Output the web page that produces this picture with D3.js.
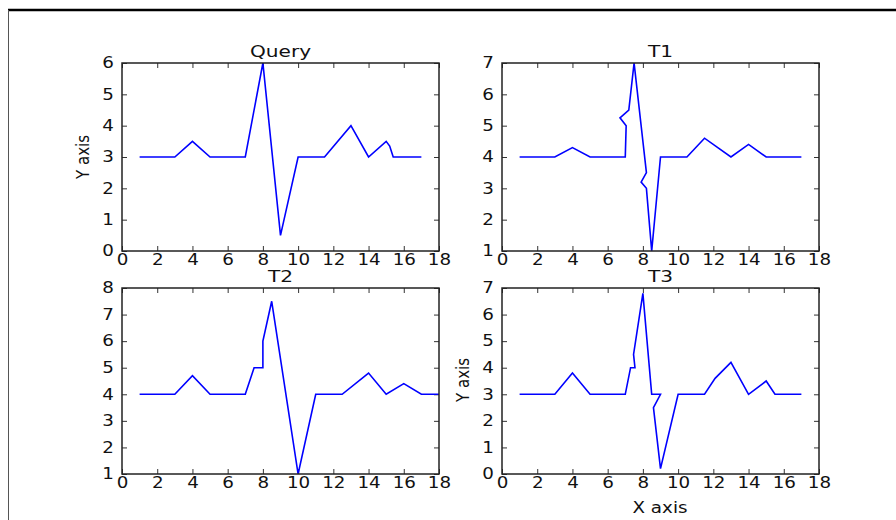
<!DOCTYPE html>
<html>
<head>
<meta charset="utf-8">
<script src="https://cdn.jsdelivr.net/npm/d3@7"></script>
<style>
  body { margin: 0; background: #fff; }
  svg text { font-family: "DejaVu Sans", sans-serif; fill: #111; }
</style>
</head>
<body>
<svg id="chart"></svg>
<script>
// series values
const queryX = [1, 3, 4, 5, 7, 8, 9, 10, 11.5, 13, 14, 15, 15.2, 15.4, 17];
const queryY = [3, 3, 3.5, 3, 3, 6, 0.5, 3, 3, 4, 3, 3.5, 3.35, 3, 3];

const t1X = [1, 3, 4, 5, 7, 7.05, 6.7, 7.2, 7.5, 8.2, 7.9, 8.2, 8.5, 9, 10.5, 11.5, 13, 14, 15, 17];
const t1Y = [4, 4, 4.3, 4, 4, 5, 5.25, 5.5, 7, 3.5, 3.2, 3, 1, 4, 4, 4.6, 4, 4.4, 4, 4];

const t2X = [1, 3, 4, 5, 7, 7.5, 8, 8, 8.5, 10, 11, 12.5, 14, 15, 16, 17, 18];
const t2Y = [4, 4, 4.7, 4, 4, 5, 5, 6, 7.5, 1, 4, 4, 4.8, 4, 4.4, 4, 4];

const t3X = [1, 3, 4, 5, 7, 7.3, 7.55, 7.47, 8, 8.5, 9, 8.6, 9, 10, 11.5, 12.1, 13, 14, 15, 15.5, 17];
const t3Y = [3, 3, 3.8, 3, 3, 4, 4, 4.5, 6.8, 3, 3, 2.5, 0.2, 3, 3, 3.6, 4.2, 3, 3.5, 3, 3];

const titles = ["Query", "T1", "T2", "T3"];
const xTicks = [0, 2, 4, 6, 8, 10, 12, 14, 16, 18];
const yDomains = [[0, 6], [1, 7], [1, 8], [0, 7]];

const width = 896, height = 520;
const stretch = 1.22; // the source picture is widened sideways, text included
const svg = d3.select('#chart').attr('width', width).attr('height', height);

// outer frame of the scanned figure
svg.append('line').attr('x1', 8).attr('x2', width).attr('y1', 10).attr('y2', 10)
   .attr('stroke', '#000').attr('stroke-width', 2.5);
svg.append('line').attr('x1', 8.5).attr('x2', 8.5).attr('y1', 10).attr('y2', height)
   .attr('stroke', '#555').attr('stroke-width', 1);

// panel boxes: left, right, top, bottom
const boxes = [
  [122, 439, 63, 251],
  [502, 819, 63, 251],
  [122, 439, 288, 474],
  [502, 819, 288, 474]
];
const series = [[queryX, queryY], [t1X, t1Y], [t2X, t2Y], [t3X, t3Y]];

boxes.forEach((b, i) => {
  const [x0, x1, y0, y1] = b;
  const xScale = d3.scaleLinear().domain([0, 18]).range([x0, x1]);
  const yScale = d3.scaleLinear().domain(yDomains[i]).range([y1, y0]);
  const yTicks = d3.range(yDomains[i][0], yDomains[i][1] + 1);

  const g = svg.append('g');

  // ticks pointing inward on all four sides
  const bottom = g.append('g').attr('transform', `translate(0,${y1})`)
    .call(d3.axisBottom(xScale).tickValues(xTicks).tickSize(-5).tickPadding(3).tickFormat(d3.format('d')));
  const top = g.append('g').attr('transform', `translate(0,${y0})`)
    .call(d3.axisTop(xScale).tickValues(xTicks).tickSize(-5).tickFormat(''));
  const left = g.append('g').attr('transform', `translate(${x0},0)`)
    .call(d3.axisLeft(yScale).tickValues(yTicks).tickSize(-5).tickPadding(8).tickFormat(d3.format('d')));
  const right = g.append('g').attr('transform', `translate(${x1},0)`)
    .call(d3.axisRight(yScale).tickValues(yTicks).tickSize(-5).tickFormat(''));

  [bottom, top, left, right].forEach(a => {
    a.select('.domain').remove();
    a.selectAll('line').attr('stroke', '#333').attr('stroke-width', 1);
    a.selectAll('text').attr('font-size', 15).attr('fill', '#111')
      .style('font-family', '"DejaVu Sans", sans-serif')
      .attr('transform', `scale(${stretch},1)`);
  });
  left.selectAll('text').attr('x', -8 / stretch);

  const line = d3.line().x(d => xScale(d[0])).y(d => yScale(d[1]));
  const pts = series[i][0].map((x, k) => [x, series[i][1][k]]);
  g.append('defs').append('clipPath').attr('id', 'clip' + i)
    .append('rect').attr('x', x0).attr('y', y0).attr('width', x1 - x0).attr('height', y1 - y0);
  g.append('path').datum(pts)
    .attr('clip-path', `url(#clip${i})`)
    .attr('d', line).attr('fill', 'none').attr('stroke', '#0000ff')
    .attr('stroke-width', 1.6).attr('stroke-linejoin', 'miter');

  g.append('rect').attr('x', x0).attr('y', y0).attr('width', x1 - x0).attr('height', y1 - y0)
    .attr('fill', 'none').attr('stroke', '#222').attr('stroke-width', 1.5);

  g.append('text').attr('transform', `translate(${(x0 + x1) / 2},${y0 - 6}) scale(${stretch},1)`)
    .attr('text-anchor', 'middle').attr('font-size', 16.5).text(titles[i]);
});

// axis titles
svg.append('text').attr('transform', `translate(89,157) rotate(-90) scale(1,${stretch})`)
  .attr('text-anchor', 'middle').attr('font-size', 15).text('Y axis');
svg.append('text').attr('transform', `translate(469,380) rotate(-90) scale(1,${stretch})`)
  .attr('text-anchor', 'middle').attr('font-size', 15).text('Y axis');
svg.append('text').attr('transform', `translate(660,513) scale(${stretch},1)`)
  .attr('text-anchor', 'middle').attr('font-size', 15).text('X axis');
</script>
</body>
</html>
